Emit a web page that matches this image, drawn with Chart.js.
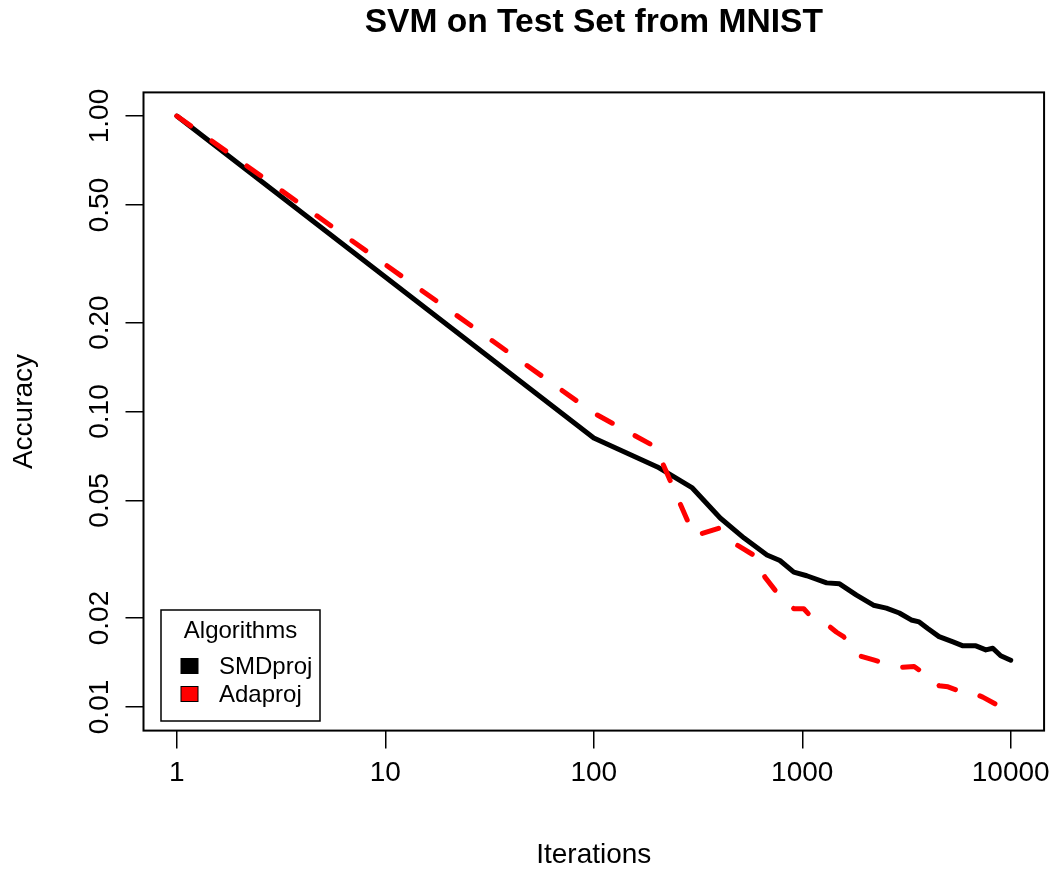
<!DOCTYPE html>
<html><head><meta charset="utf-8">
<script src="https://cdn.jsdelivr.net/npm/chart.js@4.4.1/dist/chart.umd.min.js"></script>
<style>html,body{margin:0;padding:0;background:#fff;overflow:hidden;}</style>
</head><body>
<canvas id="c" width="1058" height="869" style="display:block;width:1058px;height:869px;"></canvas>
<script>
const chartTitle = 'SVM on Test Set from MNIST';
const xTitle = 'Iterations';
const yTitle = 'Accuracy';
const legendTitle = 'Algorithms';
const seriesNames = ['SMDproj', 'Adaproj'];
const seriesColors = ['#000000', '#FF0000'];
const xTickValues = [1, 10, 100, 1000, 10000];
const xTickLabels = ['1', '10', '100', '1000', '10000'];
const yTickValues = [0.01, 0.02, 0.05, 0.1, 0.2, 0.5, 1];
const yTickLabels = ['0.01', '0.02', '0.05', '0.10', '0.20', '0.50', '1.00'];

const smdIter = [1, 100, 202, 297, 404, 526, 677, 781, 911, 1051, 1309, 1510, 1821, 2195, 2531, 2921, 3332, 3638, 4016, 4532, 5287, 5901, 6808, 7598, 8204, 8954, 10000];
const smdAcc  = [1.0, 0.0814, 0.0649, 0.0551, 0.0436, 0.0373, 0.0327, 0.0313, 0.0286, 0.0278, 0.0263, 0.0261, 0.0239, 0.0221, 0.0216, 0.0208, 0.0197, 0.0194, 0.0184, 0.0173, 0.0166, 0.0161, 0.0161, 0.0156, 0.0158, 0.0149, 0.0144];

const adaIter = [1, 100, 198, 303, 399, 487, 587, 662, 739, 911, 1017, 1074, 1353, 1461, 1578, 1882, 2219, 2921, 3443, 4290, 4532, 5003, 6302, 6659, 7346, 8954, 10000];
const adaAcc  = [1.0, 0.0988, 0.0758, 0.0379, 0.0403, 0.0353, 0.0326, 0.0275, 0.0249, 0.0215, 0.0215, 0.0206, 0.0187, 0.0179, 0.0173, 0.0149, 0.0144, 0.0136, 0.0137, 0.0123, 0.0118, 0.0117, 0.0110, 0.0111, 0.0108, 0.0100, 0.0099];

const FONT = "'Liberation Sans', Arial, Helvetica, sans-serif";

function toPoints(xs, ys) { return xs.map((x, i) => ({x: x, y: ys[i]})); }

const framePlugin = {
  id: 'frame',
  afterDraw(chart) {
    const ctx = chart.ctx, a = chart.chartArea;
    ctx.save();
    ctx.strokeStyle = '#000';
    ctx.lineWidth = 2;
    ctx.strokeRect(a.left, a.top, a.right - a.left, a.bottom - a.top);
    // main title
    ctx.fillStyle = '#000';
    ctx.font = 'bold 33.6px ' + FONT;
    ctx.textAlign = 'center';
    ctx.textBaseline = 'middle';
    ctx.fillText(chartTitle, (a.left + a.right) / 2, 23);
    // legend
    const bx = a.left + 17.5, bw = 159, bh = 111;
    const by = a.bottom - 9.6 - bh;
    ctx.lineWidth = 1.5;
    ctx.fillStyle = '#fff';
    ctx.fillRect(bx, by, bw, bh);
    ctx.strokeRect(bx, by, bw, bh);
    ctx.fillStyle = '#000';
    ctx.font = '24px ' + FONT;
    ctx.textAlign = 'center';
    ctx.fillText(legendTitle, bx + bw / 2, by + 21);
    chart.data.datasets.forEach((ds, i) => {
      const y = by + 56 + i * 28;
      ctx.fillStyle = ds.borderColor;
      ctx.fillRect(bx + 20, y - 7.5, 17, 15);
      ctx.lineWidth = 1;
      ctx.strokeStyle = '#000';
      ctx.strokeRect(bx + 20, y - 7.5, 17, 15);
      ctx.fillStyle = '#000';
      ctx.textAlign = 'left';
      ctx.fillText(ds.label, bx + 58, y + 1);
    });
    ctx.restore();
  }
};

new Chart(document.getElementById('c'), {
  type: 'line',
  data: {
    datasets: [
      {
        label: seriesNames[0],
        data: toPoints(smdIter, smdAcc),
        borderColor: seriesColors[0],
        backgroundColor: seriesColors[0],
        borderWidth: 5,
        pointRadius: 0,
        tension: 0,
        fill: false,
        borderCapStyle: 'round',
        borderJoinStyle: 'round',
        order: 1
      },
      {
        label: seriesNames[1],
        data: toPoints(adaIter, adaAcc),
        borderColor: seriesColors[1],
        backgroundColor: seriesColors[1],
        borderWidth: 5,
        borderDash: [17, 26],
        pointRadius: 0,
        tension: 0,
        fill: false,
        borderCapStyle: 'round',
        borderJoinStyle: 'round',
        order: 0
      }
    ]
  },
  options: {
    responsive: false,
    animation: false,
    devicePixelRatio: 1,
    layout: { padding: { top: 92.4, right: 9.5, left: 0, bottom: 0 } },
    plugins: { legend: { display: false }, title: { display: false }, tooltip: { enabled: false } },
    scales: {
      x: {
        type: 'logarithmic',
        position: 'bottom',
        min: Math.pow(10, -0.16),
        max: Math.pow(10, 4.16),
        afterBuildTicks: s => { s.ticks = xTickValues.map(v => ({ value: v })); },
        afterFit: s => { s.height = 869 - 730.6; },
        ticks: {
          autoSkip: false, minRotation: 0, maxRotation: 0, padding: 8, color: '#000',
          font: { family: FONT, size: 28 },
          callback: (v) => { const i = xTickValues.indexOf(v); return i >= 0 ? xTickLabels[i] : ''; }
        },
        grid: { display: true, drawOnChartArea: false, drawTicks: true, tickLength: 18, color: '#000', lineWidth: 1.5 },
        border: { display: false },
        title: { display: true, text: xTitle, color: '#000', font: { family: FONT, size: 28 }, padding: { top: 0, bottom: -3 } }
      },
      y: {
        type: 'logarithmic',
        position: 'left',
        min: Math.pow(10, -2.08),
        max: Math.pow(10, 0.08),
        afterBuildTicks: s => { s.ticks = yTickValues.map(v => ({ value: v })); },
        afterFit: s => { s.width = 143.5; },
        ticks: {
          autoSkip: false, minRotation: 90, maxRotation: 90, crossAlign: 'center', padding: -2, color: '#000',
          font: { family: FONT, size: 28 },
          callback: (v) => { const i = yTickValues.indexOf(v); return i >= 0 ? yTickLabels[i] : ''; }
        },
        grid: { display: true, drawOnChartArea: false, drawTicks: true, tickLength: 18, color: '#000', lineWidth: 1.5 },
        border: { display: false },
        title: { display: true, text: yTitle, color: '#000', font: { family: FONT, size: 28 }, padding: { top: 7, bottom: 0 } }
      }
    }
  },
  plugins: [framePlugin]
});
</script>
</body></html>
